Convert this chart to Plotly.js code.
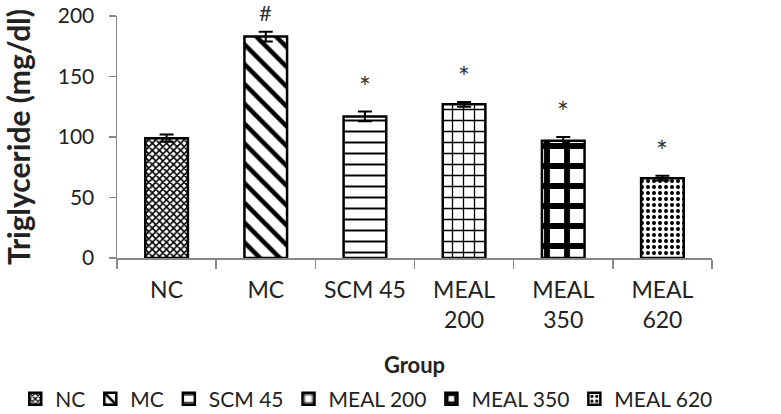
<!DOCTYPE html>
<html>
<head>
<meta charset="utf-8">
<script src="https://cdn.plot.ly/plotly-3.0.1.min.js"></script>
<style>html,body{margin:0;padding:0;background:#fff;}#chart{width:781px;height:414px;}</style>
</head>
<body>
<div id="chart"></div>
<script>
const groups = ['NC', 'MC', 'SCM 45', 'MEAL 200', 'MEAL 350', 'MEAL 620'];
const tickLabels = ['NC', 'MC', 'SCM 45', 'MEAL<br>200', 'MEAL<br>350', 'MEAL<br>620'];
const values = [99, 183, 117, 127, 97, 66];
const errors = [3, 4, 4, 2, 3, 2];
const marks = ['', '#', '*', '*', '*', '*'];

const patterns = [
  {shape: 'x', size: 5, solidity: 0.55},
  {shape: '\\', size: 14, solidity: 0.32},
  {shape: '-', size: 11, solidity: 0.18},
  {shape: '+', size: 11, solidity: 0.22},
  {shape: '+', size: 20, solidity: 0.5},
  {shape: '.', size: 6, solidity: 0.35}
];

const FONT = 'Lato, "Open Sans", sans-serif';

const traces = groups.map((g, i) => ({
  type: 'bar',
  name: g,
  x: [g],
  y: [values[i]],
  width: 0.43,
  error_y: {type: 'data', array: [errors[i]], visible: true, color: '#000', thickness: 2, width: 7},
  marker: {
    color: '#fff',
    line: {color: '#000', width: 2.5},
    pattern: Object.assign({fgcolor: '#000', bgcolor: '#fff', fillmode: 'replace'}, patterns[i])
  },
  hoverinfo: 'x+y'
}));

const annotations = groups.map((g, i) => ({
  x: g, y: values[i] + errors[i] + (marks[i] === '#' ? 3 : 5),
  xref: 'x', yref: 'y',
  text: marks[i], showarrow: false,
  yanchor: 'bottom',
  font: {family: FONT, size: marks[i] === '#' ? 22 : 28, color: '#333'}
})).filter(a => a.text !== '');

const layout = {
  width: 781, height: 414,
  margin: {l: 117, r: 69, t: 16, b: 156, autoexpand: false},
  paper_bgcolor: '#fff', plot_bgcolor: '#fff',
  barmode: 'overlay',
  showlegend: true,
  font: {family: FONT, color: '#222'},
  xaxis: {
    type: 'category',
    tickvals: groups, ticktext: tickLabels,
    tickson: 'boundaries',
    ticks: 'outside', ticklen: 9, tickwidth: 1.5, tickcolor: '#888',
    ticklabelstandoff: 11,
    showline: true, linecolor: '#888', linewidth: 1.5,
    showgrid: false, zeroline: false,
    tickfont: {family: FONT, size: 23, color: '#222'},
    title: {text: '<b>Group</b>', font: {family: FONT, size: 22, color: '#222'}, standoff: 25},
    automargin: false
  },
  yaxis: {
    range: [0, 200],
    tickvals: [0, 50, 100, 150, 200],
    ticks: 'outside', ticklen: 7, tickwidth: 1.5, tickcolor: '#888',
    ticklabelstandoff: 10,
    showline: true, linecolor: '#888', linewidth: 1.5,
    showgrid: false, zeroline: false,
    tickfont: {family: FONT, size: 21, color: '#222'},
    title: {text: '<b>Triglyceride (mg/dl)</b>', font: {family: FONT, size: 30, color: '#222'}, standoff: 34},
    automargin: false
  },
  legend: {
    orientation: 'h',
    xref: 'paper', yref: 'paper',
    x: -0.171, xanchor: 'left',
    y: -0.583, yanchor: 'middle',
    font: {family: FONT, size: 21, color: '#222'},
    itemwidth: 30,
    traceorder: 'normal'
  },
  annotations: annotations
};

Plotly.newPlot('chart', traces, layout, {displayModeBar: false, staticPlot: true});
</script>
</body>
</html>
